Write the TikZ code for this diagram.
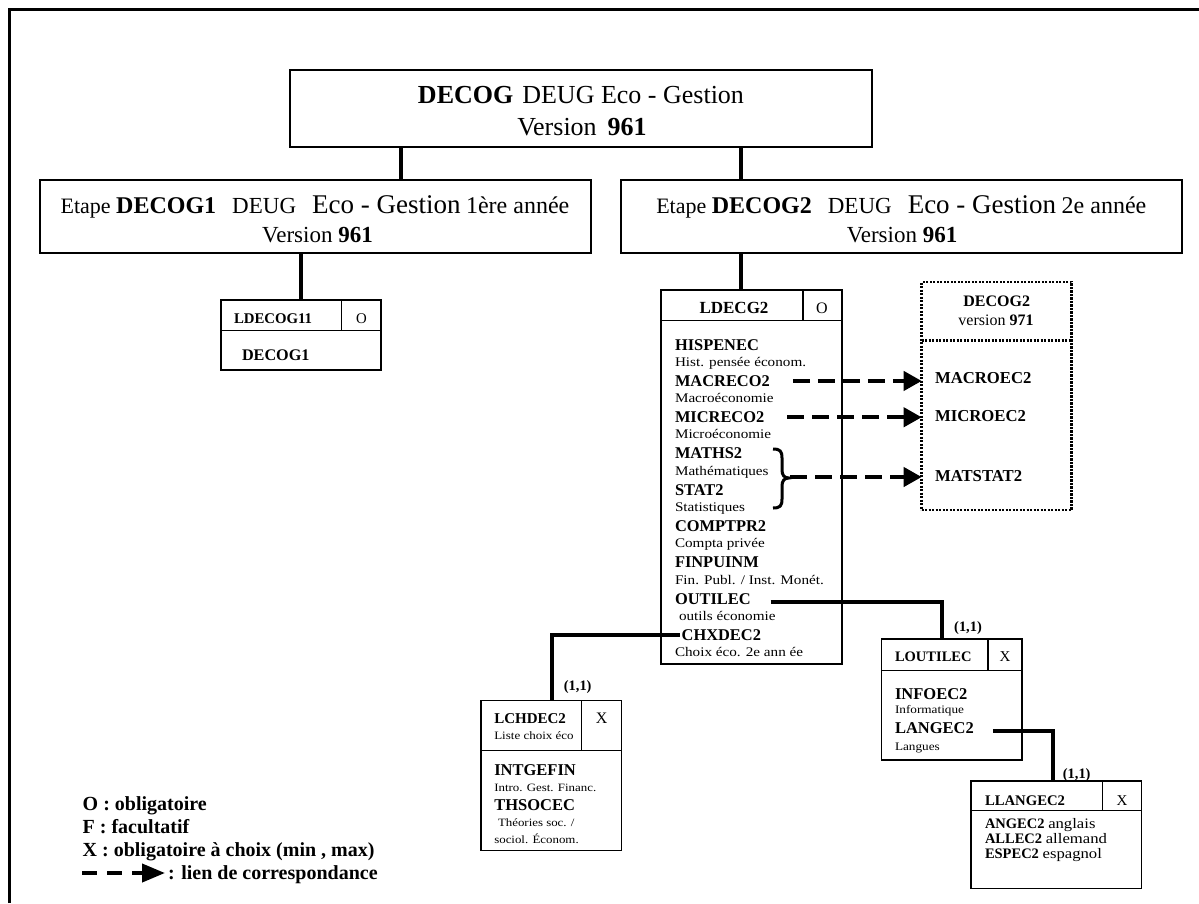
\documentclass[tikz,border=0pt]{standalone}
\usepackage{fontspec}
\setmainfont{Liberation Serif}
\newfontfamily\sm{Liberation Serif}[FakeStretch=1.15]
\usetikzlibrary{arrows.meta}
\newcommand\fsz[1]{\fontsize{#1}{#1}\selectfont}
\begin{document}
\begin{tikzpicture}[x=1pt,y=-1pt,
  frame/.style={line width=2.5pt},
  tbox/.style={draw, line width=1.5pt, inner sep=0pt, outer sep=0pt, anchor=north west},
  box/.style={draw, line width=1.2pt, inner sep=0pt, outer sep=0pt, anchor=north west},
  dotbox/.style={draw, line width=2.5pt, dash pattern=on 2.2pt off 1.3pt, inner sep=0pt, outer sep=0pt, anchor=north west},
  div/.style={line width=1.2pt},
  conn/.style={line width=4pt},
  corr/.style={line width=4pt, dash pattern=on 17pt off 8pt, -{Triangle[length=18pt,width=19pt]}},
  corrleg/.style={line width=4pt, dash pattern=on 15pt off 10pt, -{Triangle[length=23pt,width=18pt]}},
  txt/.style={inner sep=0pt, outer sep=0pt, anchor=base west},
  ctr/.style={inner sep=0pt, outer sep=0pt, anchor=base},
  bitem/.style={txt, font=\bfseries\fsz{16.4}},
  sitem/.style={txt, font=\sm\fsz{13.2}},
  card/.style={ctr, font=\bfseries\fsz{14.4}},
  leg/.style={txt, font=\bfseries\fsz{20}}
]
\useasboundingbox (0,0) rectangle (1199,903);
% frame
\draw[frame] (9.5,903) -- (9.5,9.5) -- (1199,9.5);

% top level
\node[tbox, minimum width=582pt, minimum height=77pt] (T) at (290,70) {};
\node[ctr, font=\fsz{26}] (t1) at (581,103.6) {\textbf{DECOG}\hspace{9pt}DEUG Eco - Gestion};
\node[ctr, font=\fsz{26}] (t2) at (582,135.3) {Version\hspace{11pt}\textbf{961}};

% level 2
\node[tbox, minimum width=551pt, minimum height=73pt] (E1) at (40,180) {};
\node[ctr] (e1a) at (315,213.3) {\fsz{22}Etape \textbf{\fsz{24}DECOG1}\hspace{16pt}{\fsz{23}DEUG}\hspace{16pt}{\fsz{27}Eco - Gestion} {\fsz{24}1ère année}};
\node[ctr, font=\fsz{23}] (e1b) at (317.5,242.3) {Version \textbf{961}};

\node[tbox, minimum width=561pt, minimum height=73pt] (E2) at (621,180) {};
\node[ctr] (e2a) at (901.3,213.3) {\fsz{22}Etape \textbf{\fsz{24}DECOG2}\hspace{16pt}{\fsz{23}DEUG}\hspace{16pt}{\fsz{27}Eco - Gestion} {\fsz{24}2e année}};
\node[ctr, font=\fsz{23}] (e2b) at (902,242.3) {Version \textbf{961}};

\draw[conn] (401,0 |- T.south) -- (401,0 |- E1.north);
\draw[conn] (741,0 |- T.south) -- (741,0 |- E2.north);

% LDECOG11
\node[box, minimum width=160pt, minimum height=70pt] (ldecog11) at (221,300) {};
\draw[div] ([yshift=-30.7pt]ldecog11.north west) -- ([yshift=-30.7pt]ldecog11.north east);
\draw[div] ([xshift=-39.3pt]ldecog11.north east) -- ++(0,30.7);
\node[txt, font=\bfseries\fsz{14.8}] (h1) at (234,323.3) {LDECOG11};
\node[ctr, font=\fsz{14.8}] (o1) at (361.5,323.3) {O};
\node[txt, font=\bfseries\fsz{16.2}] (decog1) at (242,360) {DECOG1};
\draw[conn] (301,0 |- E1.south) -- (301,0 |- ldecog11.north);

% LDECG2
\node[box, minimum width=181pt, minimum height=374pt] (ldecg2) at (661,290) {};
\draw[div] ([yshift=-30.7pt]ldecg2.north west) -- ([yshift=-30.7pt]ldecg2.north east);
\draw[div] ([xshift=-39pt]ldecg2.north east) -- ++(0,30.7);
\node[ctr, font=\bfseries\fsz{17}] (h2) at (734,313.3) {LDECG2};
\node[ctr, font=\fsz{16}] (o2) at (822,313.3) {O};
\draw[conn] (741,0 |- E2.south) -- (741,0 |- ldecg2.north);

\node[bitem] (hispenec) at (675,350) {HISPENEC};
\node[sitem] (s1) at (675,366.3) {Hist. pensée économ.};
\node[bitem] (macreco2) at (675,386.3) {MACRECO2};
\node[sitem] (s2) at (675,402.6) {Macroéconomie};
\node[bitem] (micreco2) at (675,422.6) {MICRECO2};
\node[sitem] (s3) at (675,438.9) {Microéconomie};
\node[bitem] (maths2) at (675,458.9) {MATHS2};
\node[sitem] (s4) at (675,475.2) {Mathématiques};
\node[bitem] (stat2) at (675,495.2) {STAT2};
\node[sitem] (s5) at (675,511.5) {Statistiques};
\node[bitem] (comptpr2) at (675,531.5) {COMPTPR2};
\node[sitem] (s6) at (675,547.8) {Compta privée};
\node[bitem] (finpuinm) at (675,567.8) {FINPUINM};
\node[sitem] (s7) at (675,584.1) {Fin. Publ. / Inst. Monét.};
\node[bitem] (outilec) at (675,604.1) {OUTILEC};
\node[sitem] (s8) at (679,620.4) {outils économie};
\node[bitem] (chxdec2) at (681.7,640.4) {CHXDEC2};
\node[sitem] (s9) at (675,656.7) {Choix éco. 2e ann ée};

% brace
\draw[line width=3pt] (773,449) .. controls (780,449) and (782,451) .. (782,458) -- (782,470)
  .. controls (782,475) and (784,478) .. (789,478) .. controls (784,478) and (782,481) .. (782,486)
  -- (782,499) .. controls (782,506) and (780,508) .. (773,508);
\coordinate (bracetip) at (790,477);

% DECOG2 version 971
\node[dotbox, minimum width=150pt, minimum height=228pt] (dbox) at (921.7,282) {};
\draw[line width=2.5pt, dash pattern=on 2.2pt off 1.3pt] ([yshift=-58.7pt]dbox.north west) -- ([yshift=-58.7pt]dbox.north east);
\node[ctr, font=\bfseries\fsz{16}] (dh) at (996.7,306.5) {DECOG2};
\node[ctr, font=\fsz{16}] (dv) at (996,325) {version \textbf{971}};
\node[txt, font=\bfseries\fsz{16.7}] (macroec2) at (935,383.3) {MACROEC2};
\node[txt, font=\bfseries\fsz{16.7}] (microec2) at (935,421.7) {MICROEC2};
\node[txt, font=\bfseries\fsz{16.7}] (matstat2) at (935,481.7) {MATSTAT2};

\draw[corr, shorten <=23pt] (macreco2.east) -- (macreco2.east -| dbox.west);
\draw[corr, shorten <=23pt] (micreco2.east) -- (micreco2.east -| dbox.west);
\draw[corr] (bracetip) -- (bracetip -| dbox.west);

% LOUTILEC
\node[box, minimum width=140.3pt, minimum height=121pt] (loutilec) at (881.7,639) {};
\draw[div] ([yshift=-31.7pt]loutilec.north west) -- ([yshift=-31.7pt]loutilec.north east);
\draw[div] ([xshift=-34pt]loutilec.north east) -- ++(0,31.7);
\node[ctr, font=\bfseries\fsz{14.5}] (h3) at (933.3,661.7) {LOUTILEC};
\node[ctr, font=\fsz{15}] (x3) at (1005,661.7) {X};
\node[txt, font=\bfseries\fsz{16.5}] (infoec2) at (895,699) {INFOEC2};
\node[txt, font=\sm\fsz{11.5}] (s10) at (895,713.3) {Informatique};
\node[txt, font=\bfseries\fsz{16.5}] (langec2) at (895,733.3) {LANGEC2};
\node[txt, font=\sm\fsz{11.5}] (s11) at (895,750) {Langues};
\draw[conn] ([xshift=20pt,yshift=-3pt]outilec.east) -| ([xshift=60pt]loutilec.north west);
\node[card] (c1) at (968,631) {(1,1)};

% LLANGEC2
\node[box, minimum width=170.7pt, minimum height=107.3pt] (llangec2) at (971,781) {};
\draw[div] ([yshift=-29.7pt]llangec2.north west) -- ([yshift=-29.7pt]llangec2.north east);
\draw[div] ([xshift=-39.4pt]llangec2.north east) -- ++(0,29.7);
\node[txt, font=\bfseries\fsz{14.7}] (h4) at (985,805) {LLANGEC2};
\node[ctr, font=\fsz{15}] (x4) at (1122,805) {X};
\node[txt, font=\fsz{14.5}] (angec2) at (985,828.3) {\textbf{ANGEC2} {\sm anglais}};
\node[txt, font=\fsz{14.5}] (allec2) at (985,843.3) {\textbf{ALLEC2} {\sm allemand}};
\node[txt, font=\fsz{14.5}] (espec2) at (985,858.3) {\textbf{ESPEC2} {\sm espagnol}};
\draw[conn] ([xshift=19pt,yshift=-2.7pt]langec2.east) -| ([xshift=81.7pt]llangec2.north west);
\node[card] (c2) at (1076.7,778) {(1,1)};

% LCHDEC2
\node[box, minimum width=140.7pt, minimum height=150pt] (lchdec2) at (481,700.7) {};
\draw[div] ([yshift=-50pt]lchdec2.north west) -- ([yshift=-50pt]lchdec2.north east);
\draw[div] ([xshift=-40pt]lchdec2.north east) -- ++(0,50);
\node[txt, font=\bfseries\fsz{15}] (h5) at (494.3,723.3) {LCHDEC2};
\node[txt, font=\sm\fsz{11.3}] (s12) at (494.3,739.3) {Liste choix éco};
\node[ctr, font=\fsz{16}] (x5) at (601.7,723.3) {X};
\node[txt, font=\bfseries\fsz{16.5}] (intgefin) at (494.3,775) {INTGEFIN};
\node[txt, font=\sm\fsz{11.2}] (s13) at (494.3,791.7) {Intro. Gest. Financ.};
\node[txt, font=\bfseries\fsz{16.5}] (thsocec) at (494.3,810.7) {THSOCEC};
\node[txt, font=\sm\fsz{11.2}] (s14) at (498,826.7) {Théories soc. /};
\node[txt, font=\sm\fsz{11.2}] (s15) at (494.3,843) {sociol. Économ.};
\draw[conn] ([xshift=-2pt]chxdec2.west) -| ([xshift=70.7pt]lchdec2.north west);
\node[card] (c3) at (577.7,690.5) {(1,1)};

% legend
\node[leg] (leg1) at (82.7,810) {O : obligatoire};
\node[leg] (leg2) at (82.7,833) {F : facultatif};
\node[leg] (leg3) at (82.7,856) {X : obligatoire à choix (min , max)};
\node[leg] (leg4) at (168,879.3) {: lien de correspondance};
\coordinate (lg) at (82,873);
\draw[corrleg, shorten >=3pt] (lg) -- (lg -| leg4.west);
\end{tikzpicture}
\end{document}
